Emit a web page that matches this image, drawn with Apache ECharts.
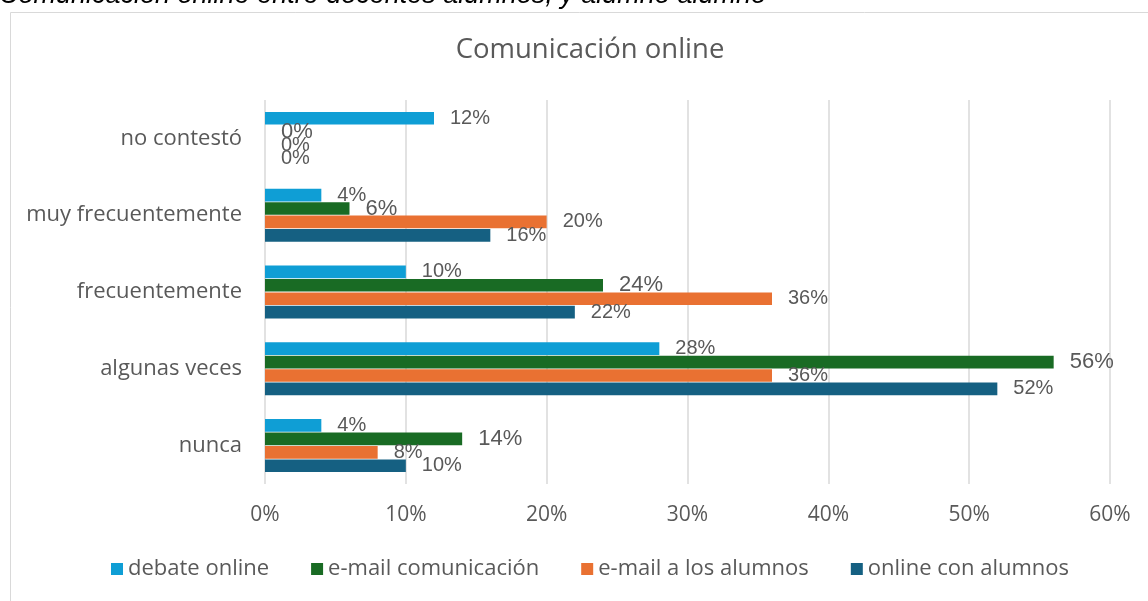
<!DOCTYPE html>
<html>
<head>
<meta charset="utf-8">
<script src="https://cdn.jsdelivr.net/npm/echarts@6/dist/echarts.min.js"></script>
<style>
  html, body { margin: 0; padding: 0; background: #fff; }
  #chart { width: 1148px; height: 601px; }
</style>
</head>
<body>
<div id="chart"></div>
<script>
// categorías de arriba hacia abajo
const categories = ["no contestó", "muy frecuentemente", "frecuentemente", "algunas veces", "nunca"];
const seriesNames = ["debate online", "e-mail comunicación", "e-mail a los alumnos", "online con alumnos"];
const debateOnline = [12, 4, 10, 28, 4];
const emailComunicacion = [0, 6, 24, 56, 14];
const emailAlumnos = [0, 20, 36, 36, 8];
const onlineAlumnos = [0, 16, 22, 52, 10];
const xTicks = [0, 10, 20, 30, 40, 50, 60];

const colors = ["#0F9ED5", "#196B24", "#E97132", "#156082"];
const txt = "#595959";
const labelFont = "Liberation Sans, Arial, sans-serif";
const uiFont = "Open Sans, Noto Sans, sans-serif";

function makeSeries(name, data, color, labelSize) {
  return {
    name: name,
    type: "bar",
    data: data,
    barGap: "6%",
    barCategoryGap: "31%",
    itemStyle: { color: color },
    label: {
      show: true,
      position: "right",
      distance: 16,
      color: txt,
      fontSize: labelSize,
      fontFamily: labelFont,
      formatter: "{c}%",
    },
  };
}

const chart = echarts.init(document.getElementById("chart"));
chart.setOption({
  animation: false,
  textStyle: { fontFamily: uiFont },
  graphic: [
    {
      type: "rect",
      shape: { x: 10.5, y: 12.5, width: 1160, height: 620 },
      style: { fill: "none", stroke: "#d9d9d9", lineWidth: 1 },
      silent: true,
    },
    {
      type: "text",
      left: -1,
      top: -18,
      style: {
        text: "Comunicación online entre docentes alumnos, y alumno alumno",
        fill: "#000",
        font: "italic 27px " + labelFont,
      },
    },
  ],
  title: {
    text: "Comunicación online",
    left: 585,
    top: 31,
    textAlign: "center",
    textStyle: { color: txt, fontSize: 27.5, fontWeight: "normal", fontFamily: uiFont },
  },
  legend: {
    bottom: 16,
    left: 106,
    itemWidth: 12,
    itemHeight: 12,
    itemGap: 42,
    icon: "rect",
    textStyle: { color: txt, fontSize: 22, fontFamily: uiFont },
    data: seriesNames,
  },
  grid: { left: 265, right: 38, top: 100, bottom: 117, containLabel: false },
  xAxis: {
    type: "value",
    min: 0,
    max: 60,
    interval: 10,
    axisLine: { show: false },
    axisTick: { show: false },
    axisLabel: { color: txt, fontSize: 21, margin: 21, formatter: "{value}%" },
    splitLine: { lineStyle: { color: "#d9d9d9", width: 1.5 } },
  },
  yAxis: {
    type: "category",
    inverse: true,
    data: categories,
    axisLine: { show: false },
    axisTick: { show: false },
    axisLabel: { color: txt, fontSize: 22, margin: 23 },
  },
  series: [
    makeSeries(seriesNames[0], debateOnline, colors[0], 20),
    makeSeries(seriesNames[1], emailComunicacion, colors[1], 22),
    makeSeries(seriesNames[2], emailAlumnos, colors[2], 20),
    makeSeries(seriesNames[3], onlineAlumnos, colors[3], 20),
  ],
});
</script>
</body>
</html>
